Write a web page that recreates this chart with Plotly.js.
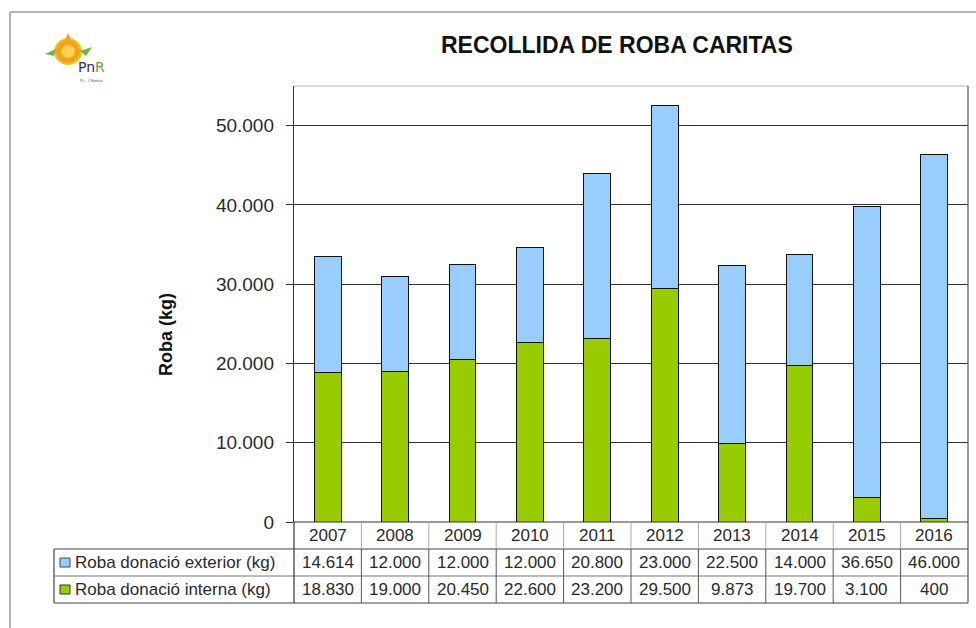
<!DOCTYPE html>
<html>
<head>
<meta charset="utf-8">
<script src="https://cdn.plot.ly/plotly-3.0.1.min.js"></script>
<style>html,body{margin:0;padding:0;background:#fff;}#chart{width:976px;height:628px;}</style>
</head>
<body>
<div id="chart"></div>
<script>
// ---- data ----
const years = ["2007","2008","2009","2010","2011","2012","2013","2014","2015","2016"];
const exterior = [14614, 12000, 12000, 12000, 20800, 23000, 22500, 14000, 36650, 46000];
const interna = [18830, 19000, 20450, 22600, 23200, 29500, 9873, 19700, 3100, 400];
const nameExterior = "Roba donació exterior (kg)";
const nameInterna = "Roba donació interna (kg)";
const yTickVals = [0, 10000, 20000, 30000, 40000, 50000];

// ---- geometry helpers (pixel -> paper) ----
const W = 976, H = 628;
const L = 294, R = 968, T = 86, B = 522;
const px = x => (x - L) / (R - L);
const py = y => (B - y) / (B - T);

const blue = "#99ccff", green = "#99cc00", ink = "#2a2a2a";
const fontFam = "Liberation Sans, Arial, sans-serif";

function fmt(n) {
  return String(n).replace(/\B(?=(\d{3})+(?!\d))/g, ".");
}

const traces = [
  {type: "bar", x: years, y: interna, name: nameInterna,
   marker: {color: green, line: {color: "#111", width: 1}}, hoverinfo: "none"},
  {type: "bar", x: years, y: exterior, name: nameExterior,
   marker: {color: blue, line: {color: "#111", width: 1}}, hoverinfo: "none"}
];

const shapes = [];
const annotations = [];

// outer frame
shapes.push({type: "line", xref: "paper", yref: "paper", x0: px(10), x1: px(10), y0: py(12), y1: py(640), line: {color: "#9a9a9a", width: 1.5}});
shapes.push({type: "line", xref: "paper", yref: "paper", x0: px(10), x1: px(990), y0: py(12), y1: py(12), line: {color: "#9a9a9a", width: 1.5}});
// plot area border top & right
shapes.push({type: "line", xref: "paper", yref: "paper", x0: 0, x1: 1, y0: 1, y1: 1, line: {color: "#cfcfcf", width: 1.5}});
shapes.push({type: "line", xref: "paper", yref: "paper", x0: 1, x1: 1, y0: 1, y1: py(603), line: {color: "#555", width: 1.2}});

// table lines
shapes.push({type: "line", xref: "paper", yref: "paper", x0: 0, x1: 1, y0: py(522), y1: py(522), line: {color: "#333", width: 1.2}});
shapes.push({type: "line", xref: "paper", yref: "paper", x0: px(54), x1: 1, y0: py(549), y1: py(549), line: {color: "#444", width: 1.2}});
shapes.push({type: "line", xref: "paper", yref: "paper", x0: px(54), x1: 1, y0: py(576), y1: py(576), line: {color: "#777", width: 1}});
shapes.push({type: "line", xref: "paper", yref: "paper", x0: px(54), x1: 1, y0: py(603), y1: py(603), line: {color: "#444", width: 1.2}});
shapes.push({type: "line", xref: "paper", yref: "paper", x0: px(54), x1: px(54), y0: py(549), y1: py(603), line: {color: "#444", width: 1.2}});
shapes.push({type: "line", xref: "paper", yref: "paper", x0: 0, x1: 0, y0: py(522), y1: py(603), line: {color: "#333", width: 1.2}});
for (let i = 1; i < years.length; i++) {
  shapes.push({type: "line", xref: "x", yref: "paper", x0: i - 0.5, x1: i - 0.5, y0: py(522), y1: py(549), line: {color: "#aaa", width: 1}});
  shapes.push({type: "line", xref: "x", yref: "paper", x0: i - 0.5, x1: i - 0.5, y0: py(549), y1: py(603), line: {color: "#555", width: 1}});
}

// table text
const tfont = {family: fontFam, size: 17, color: ink};
years.forEach((yr, i) => {
  annotations.push({xref: "x", yref: "paper", x: i, y: py(535.5), text: yr, showarrow: false, font: tfont, xanchor: "center", yanchor: "middle"});
  annotations.push({xref: "x", yref: "paper", x: i, y: py(562.5), text: fmt(exterior[i]), showarrow: false, font: tfont, xanchor: "center", yanchor: "middle"});
  annotations.push({xref: "x", yref: "paper", x: i, y: py(589.5), text: fmt(interna[i]), showarrow: false, font: tfont, xanchor: "center", yanchor: "middle"});
});
// legend rows
shapes.push({type: "rect", xref: "paper", yref: "paper", x0: px(60), x1: px(70), y0: py(558), y1: py(567), fillcolor: blue, line: {color: "#445", width: 1}});
shapes.push({type: "rect", xref: "paper", yref: "paper", x0: px(60), x1: px(70), y0: py(585), y1: py(594), fillcolor: green, line: {color: "#333", width: 1}});
annotations.push({xref: "paper", yref: "paper", x: px(73), y: py(562.5), text: nameExterior, showarrow: false, font: tfont, xanchor: "left", yanchor: "middle"});
annotations.push({xref: "paper", yref: "paper", x: px(73), y: py(589.5), text: nameInterna, showarrow: false, font: tfont, xanchor: "left", yanchor: "middle"});

// title
annotations.push({xref: "paper", yref: "paper", x: px(617), y: py(45), text: "<b>RECOLLIDA DE ROBA CARITAS</b>", showarrow: false, font: {family: fontFam, size: 23, color: "#111"}, xanchor: "center", yanchor: "middle"});
// y axis title
annotations.push({xref: "paper", yref: "paper", x: px(166), y: py(335), text: "<b>Roba (kg)</b>", textangle: -90, showarrow: false, font: {family: fontFam, size: 18, color: "#111"}, xanchor: "center", yanchor: "middle"});

// logo (approximation)
shapes.push({type: "circle", xref: "paper", yref: "paper", x0: px(55), x1: px(81), y0: py(39), y1: py(64), fillcolor: "#f5a021", line: {color: "#f4c21f", width: 2}});
shapes.push({type: "circle", xref: "paper", yref: "paper", x0: px(61), x1: px(75), y0: py(45), y1: py(58), fillcolor: "#fbd34a", line: {width: 0}});
shapes.push({type: "path", xref: "paper", yref: "paper", path: `M ${px(45)} ${py(54)} L ${px(56)} ${py(49)} L ${px(54)} ${py(56)} Z`, fillcolor: "#7bb23a", line: {width: 0}});
shapes.push({type: "path", xref: "paper", yref: "paper", path: `M ${px(92)} ${py(47)} L ${px(80)} ${py(51)} L ${px(86)} ${py(56)} Z`, fillcolor: "#7bb23a", line: {width: 0}});
shapes.push({type: "path", xref: "paper", yref: "paper", path: `M ${px(68)} ${py(33)} L ${px(65)} ${py(40)} L ${px(71)} ${py(40)} Z`, fillcolor: "#f5a021", line: {width: 0}});
annotations.push({xref: "paper", yref: "paper", x: px(76), y: py(67), text: "<span style='color:#2b2f5a'>Pn</span><span style='color:#6aa33a'>R</span>", showarrow: false, font: {family: "DejaVu Sans, sans-serif", size: 14}, xanchor: "left", yanchor: "middle"});
annotations.push({xref: "paper", yref: "paper", x: px(78), y: py(81), text: "Pr... L'Entitat", showarrow: false, font: {family: fontFam, size: 4, color: "#555"}, xanchor: "left", yanchor: "middle"});

const layout = {
  width: W, height: H,
  margin: {l: L, r: W - R, t: T, b: H - B, pad: 0},
  paper_bgcolor: "#fff", plot_bgcolor: "#fff",
  barmode: "stack", bargap: 0.6,
  showlegend: false,
  separators: ",.",
  font: {family: fontFam, color: ink},
  xaxis: {type: "category", range: [-0.5, 9.5], showticklabels: false, showgrid: false, zeroline: false, showline: false, ticks: "", fixedrange: true},
  yaxis: {range: [0, 55000], tickvals: yTickVals, tickformat: ",d", showgrid: true, gridcolor: "#333", gridwidth: 1,
          zeroline: false, showline: true, linecolor: "#333", linewidth: 1.2, ticks: "outside", ticklen: 7, tickcolor: "#333",
          ticklabelstandoff: 8, tickfont: {family: fontFam, size: 19, color: ink}, fixedrange: true},
  shapes: shapes,
  annotations: annotations
};

Plotly.newPlot("chart", traces, layout, {staticPlot: true, displayModeBar: false});
</script>
</body>
</html>
